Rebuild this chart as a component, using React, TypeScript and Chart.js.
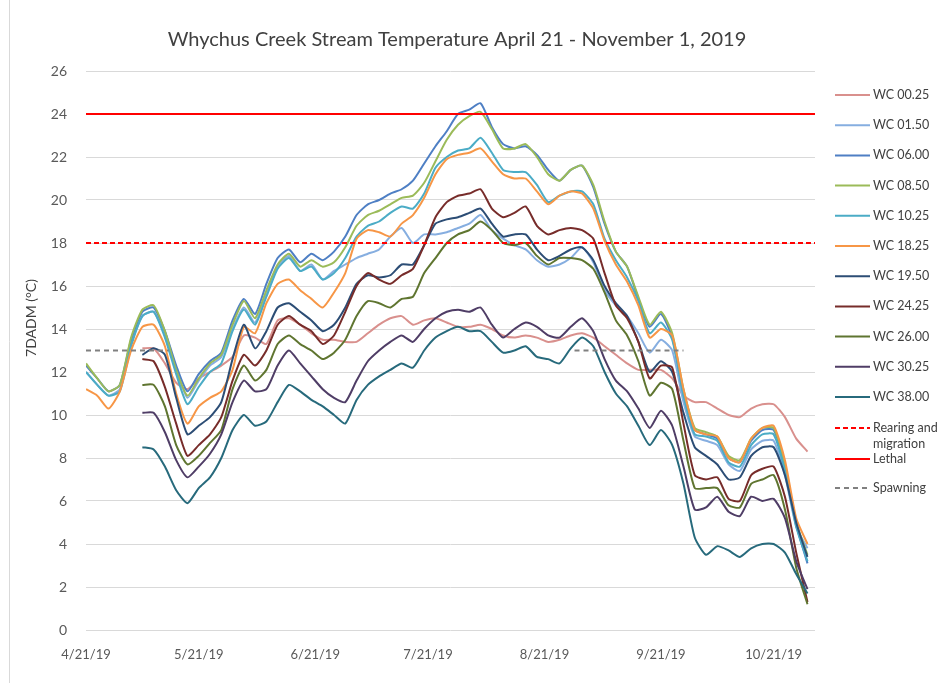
import React, { useEffect, useRef } from 'react';
import { Chart, registerables } from 'chart.js';

Chart.register(...registerables);

// ---- data -----------------------------------------------------------------
const TITLE = 'Whychus Creek Stream Temperature April 21 - November 1, 2019';
const Y_TITLE = '7DADM (°C)';

// days since 4/21/19
const DAYS = [
  0, 3, 6, 9, 12, 15, 18, 21, 24, 27, 30, 33, 36,
  39, 42, 45, 48, 51, 54, 57, 60, 63, 66, 69, 72, 75,
  78, 81, 84, 87, 90, 93, 96, 99, 102, 105, 108, 111, 114,
  117, 120, 123, 126, 129, 132, 135, 138, 141, 144, 147, 150, 153,
  156, 159, 162, 165, 168, 171, 174, 177, 180, 183, 186, 189, 192,
];
const X_MAX = 194;
const TICK_DAYS = [0, 30, 61, 91, 122, 153, 183];
const TICK_LABELS = ['4/21/19', '5/21/19', '6/21/19', '7/21/19', '8/21/19', '9/21/19', '10/21/19'];
const Y_MIN = 0;
const Y_MAX = 26;
const Y_STEP = 2;

const N = null;
const WC_00_25 = [
  N, N, N, N, N, 13.1, 13.1, 12.4, 11.5, 11.2, 11.7, 12.0, 12.3,
  12.7, 13.7, 13.6, 13.3, 14.4, 14.5, 14.2, 13.8, 13.5, 13.5, 13.4, 13.4, 13.8,
  14.2, 14.5, 14.6, 14.2, 14.4, 14.5, 14.3, 14.1, 14.1, 14.2, 14.0, 13.7, 13.6,
  13.7, 13.6, 13.4, 13.5, 13.7, 13.8, 13.6, 13.2, 12.8, 12.4, 12.1, 12.1, 12.1,
  11.7, 10.9, 10.6, 10.6, 10.3, 10.0, 9.9, 10.3, 10.5, 10.5, 9.9, 8.9, 8.3,
];
const WC_01_50 = [
  12.0, 11.4, 10.9, 11.2, 13.3, 14.6, 14.8, 13.7, 12.1, 10.8, 11.6, 12.3, 12.7,
  14.0, 15.0, 14.3, 15.6, 16.9, 17.4, 16.7, 17.0, 16.3, 16.7, 17.0, 17.3, 17.5,
  17.7, 18.3, 18.7, 18.0, 18.4, 18.4, 18.5, 18.7, 18.9, 19.3, 18.6, 18.2, 17.9,
  17.7, 17.2, 16.9, 17.0, 17.3, 17.8, 17.1, 15.8, 15.1, 14.6, 13.8, 12.9, 13.5,
  13.0, 10.6, 9.0, 8.8, 8.6, 7.7, 7.4, 8.4, 8.8, 8.8, 7.2, 4.8, 3.8,
];
const WC_06_00 = [
  12.3, 11.7, 11.1, 11.4, 13.5, 14.8, 15.0, 13.9, 12.3, 11.1, 11.9, 12.5, 12.9,
  14.4, 15.4, 14.7, 16.1, 17.3, 17.7, 17.1, 17.5, 17.2, 17.6, 18.3, 19.3, 19.8,
  20.0, 20.3, 20.5, 20.9, 21.7, 22.5, 23.2, 24.0, 24.2, 24.5, 23.4, 22.6, 22.4,
  22.5, 22.1, 21.4, 20.9, 21.4, 21.6, 20.6, 18.9, 17.6, 16.9, 15.4, 14.1, 14.7,
  13.6, 11.0, 9.3, 9.1, 8.9, 8.0, 7.8, 8.8, 9.3, 9.3, 7.6, 4.9, 3.1,
];
const WC_08_50 = [
  12.4, 11.7, 11.1, 11.4, 13.6, 14.9, 15.1, 13.9, 12.1, 10.9, 11.7, 12.4, 12.8,
  14.2, 15.3, 14.5, 15.8, 17.0, 17.5, 16.9, 17.2, 16.9, 17.1, 17.8, 18.8, 19.3,
  19.5, 19.8, 20.1, 20.2, 20.8, 21.8, 22.8, 23.5, 23.9, 24.1, 23.3, 22.4, 22.4,
  22.6, 22.0, 21.2, 20.9, 21.4, 21.6, 20.7, 19.0, 17.6, 16.9, 15.5, 14.2, 14.8,
  13.8, 11.2, 9.4, 9.2, 9.0, 8.1, 7.9, 8.9, 9.4, 9.4, 7.7, 5.0, 3.5,
];
const WC_10_25 = [
  12.0, 11.4, 10.9, 11.1, 13.2, 14.6, 14.8, 13.6, 11.9, 10.5, 11.3, 12.0, 12.4,
  13.9, 14.9, 14.2, 15.5, 16.8, 17.3, 16.7, 16.9, 16.3, 16.6, 17.3, 18.3, 18.8,
  19.0, 19.4, 19.7, 19.6, 20.3, 21.5, 22.0, 22.3, 22.4, 22.9, 22.2, 21.4, 21.3,
  21.3, 20.7, 19.9, 20.2, 20.4, 20.4, 19.8, 18.2, 17.2, 16.4, 15.3, 13.8, 14.3,
  13.5, 10.9, 9.1, 9.0, 8.8, 7.8, 7.6, 8.6, 9.1, 9.1, 7.4, 4.8, 3.2,
];
const WC_18_25 = [
  11.2, 10.9, 10.3, 11.1, 13.0, 14.1, 14.2, 13.2, 11.0, 9.6, 10.4, 10.8, 11.1,
  12.1, 14.1, 13.8, 15.2, 16.1, 16.3, 15.8, 15.4, 15.0, 15.7, 16.6, 18.2, 18.6,
  18.5, 18.3, 18.9, 19.3, 20.1, 21.2, 21.9, 22.1, 22.2, 22.4, 21.8, 21.2, 21.0,
  21.0, 20.4, 19.8, 20.2, 20.4, 20.3, 19.6, 18.1, 17.0, 16.2, 15.1, 13.6, 14.0,
  13.7, 11.2, 9.3, 9.1, 9.0, 8.0, 7.8, 8.9, 9.4, 9.5, 7.9, 5.2, 4.0,
];
const WC_19_50 = [
  N, N, N, N, N, 12.8, 13.1, 12.8, 10.8, 9.1, 9.5, 9.9, 10.6,
  12.6, 14.2, 13.1, 13.9, 15.0, 15.2, 14.8, 14.4, 13.9, 14.2, 15.0, 16.1, 16.5,
  16.4, 16.5, 17.0, 17.0, 17.9, 18.9, 19.1, 19.2, 19.4, 19.6, 18.9, 18.3, 18.4,
  18.4, 17.7, 17.2, 17.4, 17.7, 17.8, 17.2, 16.0, 15.2, 14.6, 13.4, 12.0, 12.5,
  12.0, 10.1, 8.5, 8.1, 7.7, 7.0, 7.1, 8.1, 8.5, 8.5, 7.2, 5.0, 3.4,
];
const WC_24_25 = [
  N, N, N, N, N, 12.6, 12.5, 11.3, 9.6, 8.1, 8.6, 9.1, 9.9,
  11.6, 12.8, 12.3, 13.0, 14.2, 14.6, 14.2, 13.9, 13.3, 13.7, 14.8, 16.0, 16.6,
  16.3, 16.1, 16.5, 16.8, 17.9, 19.2, 19.9, 20.2, 20.3, 20.5, 19.6, 19.2, 19.4,
  19.7, 18.8, 18.4, 18.6, 18.7, 18.6, 18.2, 16.6, 15.1, 14.5, 13.4, 11.7, 12.3,
  12.2, 9.6, 7.2, 7.0, 7.1, 6.1, 6.0, 7.2, 7.5, 7.6, 6.2, 3.6, 1.3,
];
const WC_26_00 = [
  N, N, N, N, N, 11.4, 11.4, 10.4, 8.6, 7.7, 8.1, 8.7, 9.3,
  11.2, 12.3, 11.6, 12.1, 13.3, 13.7, 13.3, 13.0, 12.6, 12.9, 13.5, 14.6, 15.3,
  15.2, 15.0, 15.4, 15.5, 16.6, 17.3, 18.0, 18.4, 18.6, 19.0, 18.6, 18.0, 17.9,
  18.0, 17.4, 17.0, 17.3, 17.3, 17.2, 16.8, 15.7, 14.4, 13.7, 12.5, 10.9, 11.5,
  11.2, 8.8, 6.6, 6.6, 6.6, 5.8, 5.7, 6.8, 7.0, 7.2, 5.6, 2.9, 1.2,
];
const WC_30_25 = [
  N, N, N, N, N, 10.1, 10.1, 9.2, 7.9, 7.1, 7.6, 8.2, 9.1,
  10.6, 11.6, 11.1, 11.2, 12.3, 13.0, 12.4, 11.8, 11.2, 10.8, 10.6, 11.6, 12.5,
  13.0, 13.4, 13.7, 13.4, 14.0, 14.5, 14.8, 14.9, 14.8, 15.0, 14.2, 13.6, 14.0,
  14.3, 14.1, 13.7, 13.6, 14.1, 14.5, 13.9, 12.6, 11.6, 11.1, 10.3, 9.4, 10.2,
  9.5, 7.6, 5.6, 5.7, 6.2, 5.5, 5.3, 6.2, 6.0, 6.1, 5.2, 3.2, 1.9,
];
const WC_38_00 = [
  N, N, N, N, N, 8.5, 8.4, 7.6, 6.5, 5.9, 6.6, 7.1, 8.0,
  9.3, 10.0, 9.5, 9.7, 10.6, 11.4, 11.1, 10.7, 10.4, 10.0, 9.6, 10.7, 11.4,
  11.8, 12.1, 12.4, 12.2, 13.0, 13.6, 13.9, 14.1, 13.9, 13.9, 13.4, 12.9, 13.0,
  13.2, 12.7, 12.6, 12.4, 13.1, 13.6, 13.2, 12.0, 11.0, 10.4, 9.5, 8.6, 9.3,
  8.6, 6.8, 4.3, 3.5, 3.9, 3.7, 3.4, 3.8, 4.0, 4.0, 3.6, 2.6, 1.7,
];

const SERIES_NAMES = [
  'WC 00.25', 'WC 01.50', 'WC 06.00', 'WC 08.50', 'WC 10.25', 'WC 18.25',
  'WC 19.50', 'WC 24.25', 'WC 26.00', 'WC 30.25', 'WC 38.00',
];
const SERIES_VALUES = [
  WC_00_25, WC_01_50, WC_06_00, WC_08_50, WC_10_25, WC_18_25,
  WC_19_50, WC_24_25, WC_26_00, WC_30_25, WC_38_00,
];
const SERIES_COLORS = [
  '#D9908D', '#86AEE0', '#4E7FC4', '#9BBB59', '#4BACC6', '#F79646',
  '#2C4D75', '#772C2A', '#5F7530', '#4F3D66', '#276A7C',
];

// reference thresholds
const REARING_LABEL = 'Rearing and migration';
const REARING_VALUE = 18;
const LETHAL_LABEL = 'Lethal';
const LETHAL_VALUE = 24;
const SPAWNING_LABEL = 'Spawning';
const SPAWNING_VALUE = 13;
const SPAWNING_START = [0, 130];
const SPAWNING_END = [22, 159];

// ---- styling ----------------------------------------------------------------
const FONT = 'Lato, "Open Sans", sans-serif';
const TEXT = '#404040';
const TICK = '#595959';
const GRID = '#D9D9D9';

const W = 937;
const H = 683;
const AREA = { left: 86, top: 71, right: 815, bottom: 630 };

const overlayPlugin = {
  id: 'overlay',
  afterDraw(chart: any) {
    const ctx = chart.ctx as CanvasRenderingContext2D;
    ctx.save();
    // chart frame (left edge)
    ctx.strokeStyle = GRID;
    ctx.lineWidth = 1;
    ctx.beginPath();
    ctx.moveTo(9.5, 0);
    ctx.lineTo(9.5, H);
    ctx.stroke();

    // title
    ctx.fillStyle = TEXT;
    ctx.textAlign = 'center';
    ctx.textBaseline = 'middle';
    ctx.font = `20px ${FONT}`;
    ctx.fillText(TITLE, 457, 40);

    // y title
    ctx.save();
    ctx.translate(31, 318);
    ctx.rotate(-Math.PI / 2);
    ctx.font = `14px ${FONT}`;
    ctx.fillText(Y_TITLE, 0, 0);
    ctx.restore();

    // legend
    const ds = chart.data.datasets;
    const rows: { i: number; y: number; lines: string[] }[] = [];
    for (let i = 0; i < SERIES_NAMES.length; i++) {
      rows.push({ i, y: 95 + i * 30.2, lines: [ds[i].label] });
    }
    rows.push({ i: SERIES_NAMES.length, y: 428, lines: ['Rearing and', 'migration'] });
    rows.push({ i: SERIES_NAMES.length + 1, y: 459, lines: [LETHAL_LABEL] });
    rows.push({ i: SERIES_NAMES.length + 2, y: 488, lines: [SPAWNING_LABEL] });
    ctx.font = `12.5px ${FONT}`;
    ctx.textAlign = 'left';
    for (const r of rows) {
      const d = ds[r.i];
      ctx.strokeStyle = d.borderColor;
      ctx.lineWidth = d.borderWidth;
      ctx.setLineDash(d.borderDash || []);
      ctx.beginPath();
      ctx.moveTo(835, r.y);
      ctx.lineTo(870, r.y);
      ctx.stroke();
      ctx.setLineDash([]);
      ctx.fillStyle = TEXT;
      r.lines.forEach((t, k) => ctx.fillText(t, 873, r.y + k * 15.5));
    }
    ctx.restore();
  },
};

export default function App() {
  const ref = useRef<HTMLCanvasElement>(null);

  useEffect(() => {
    if (!ref.current) return;
    const seriesSets = SERIES_VALUES.map((vals, i) => ({
      label: SERIES_NAMES[i],
      data: DAYS.map((d, j) => ({ x: d, y: vals[j] })),
      borderColor: SERIES_COLORS[i],
      backgroundColor: SERIES_COLORS[i],
      borderWidth: 2,
      pointRadius: 0,
      tension: 0.2,
      fill: false,
      spanGaps: false,
      order: 20 - i,
    }));
    const spawnData: { x: number; y: number | null }[] = [];
    SPAWNING_START.forEach((s, k) => {
      if (k > 0) spawnData.push({ x: (SPAWNING_END[k - 1] + s) / 2, y: null });
      spawnData.push({ x: s, y: SPAWNING_VALUE });
      spawnData.push({ x: SPAWNING_END[k], y: SPAWNING_VALUE });
    });
    const refSets = [
      {
        label: REARING_LABEL,
        data: [{ x: 0, y: REARING_VALUE }, { x: X_MAX, y: REARING_VALUE }],
        borderColor: '#FF0000',
        borderWidth: 2,
        borderDash: [5, 3],
        pointRadius: 0,
        order: 2,
      },
      {
        label: LETHAL_LABEL,
        data: [{ x: 0, y: LETHAL_VALUE }, { x: X_MAX, y: LETHAL_VALUE }],
        borderColor: '#FF0000',
        borderWidth: 2,
        pointRadius: 0,
        order: 1,
      },
      {
        label: SPAWNING_LABEL,
        data: spawnData,
        borderColor: '#808080',
        borderWidth: 2,
        borderDash: [5, 4],
        pointRadius: 0,
        spanGaps: false,
        order: 0,
      },
    ];

    const chart = new Chart(ref.current, {
      type: 'line',
      data: { datasets: [...seriesSets, ...refSets] as any },
      options: {
        animation: false,
        responsive: false,
        devicePixelRatio: 1,
        events: [],
        layout: { padding: { left: 0, top: AREA.top, right: W - AREA.right, bottom: 0 } },
        plugins: {
          legend: { display: false },
          title: { display: false },
          tooltip: { enabled: false },
        },
        scales: {
          x: {
            type: 'linear',
            min: 0,
            max: X_MAX,
            grid: { display: false },
            border: { display: false },
            afterFit: (axis: any) => { axis.height = H - AREA.bottom; },
            afterBuildTicks: (axis: any) => { axis.ticks = TICK_DAYS.map((v) => ({ value: v })); },
            ticks: {
              autoSkip: false,
              maxRotation: 0,
              padding: 9,
              color: TICK,
              font: { family: FONT, size: 13 },
              callback: (v: any) => {
                const k = TICK_DAYS.indexOf(Number(v));
                return k >= 0 ? TICK_LABELS[k] : '';
              },
            },
          },
          y: {
            min: Y_MIN,
            max: Y_MAX,
            grid: { color: GRID, lineWidth: 1, drawTicks: false },
            border: { display: false },
            afterFit: (axis: any) => { axis.width = AREA.left; },
            ticks: {
              stepSize: Y_STEP,
              padding: 19,
              color: TICK,
              font: { family: FONT, size: 14 },
            },
          },
        },
      } as any,
      plugins: [overlayPlugin],
    });
    return () => chart.destroy();
  }, []);

  return (
    <div style={{ position: 'fixed', left: 0, top: 0, width: W, height: H, background: '#fff' }}>
      <canvas ref={ref} width={W} height={H} style={{ display: 'block', width: W, height: H }} />
    </div>
  );
}
